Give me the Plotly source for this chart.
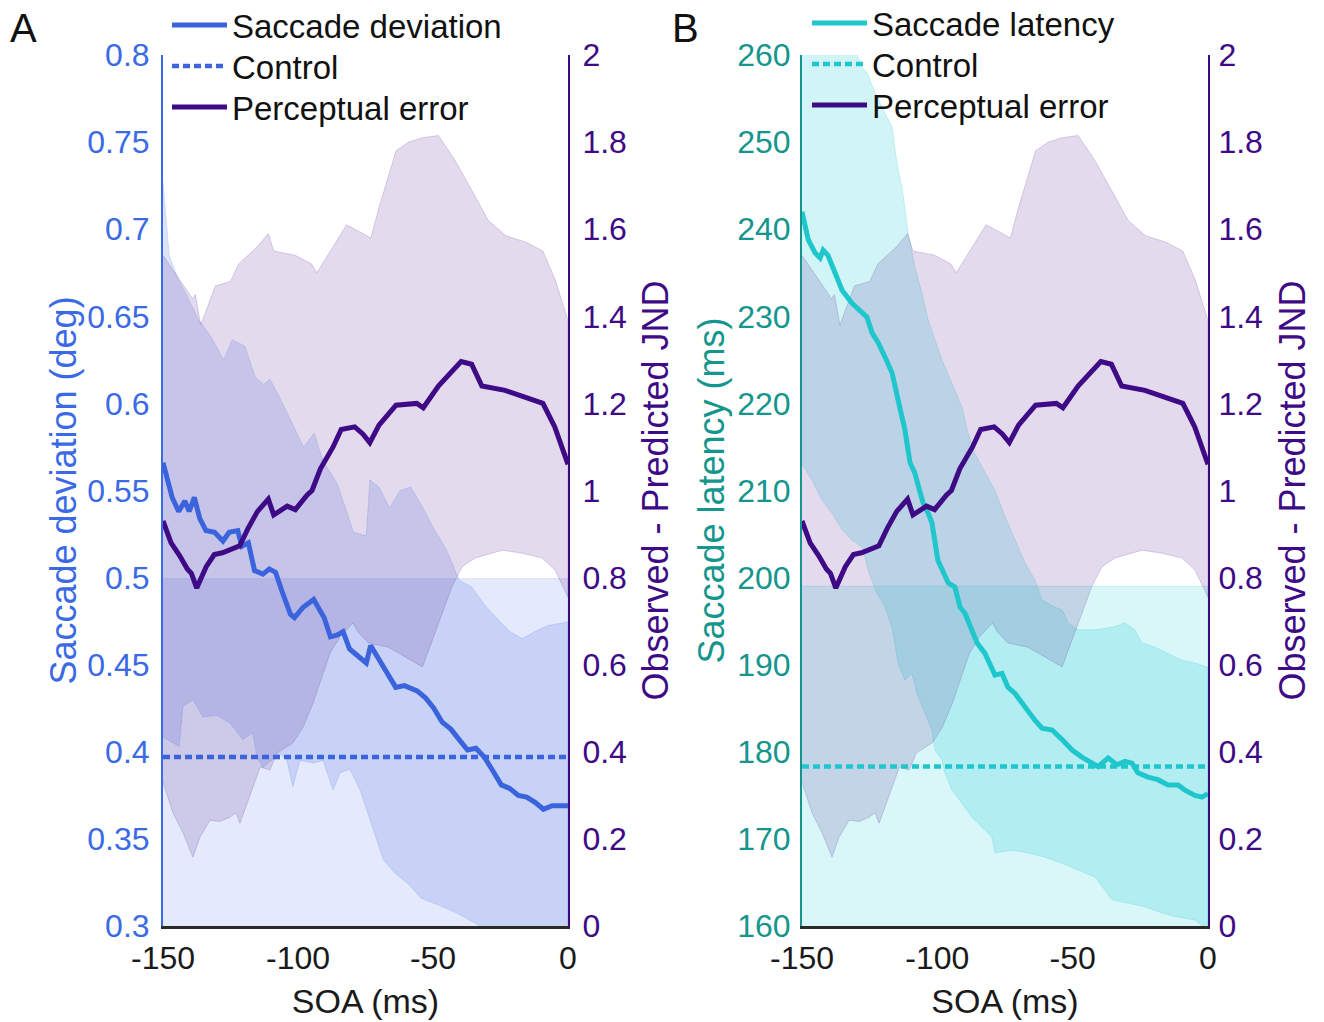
import plotly.graph_objects as go

# ---------------- data ----------------
# Perceptual error (Observed - Predicted JND), same in both panels
perc_x = [-150, -147, -143.8, -141, -139.5, -137.5, -134, -131, -128, -125, -121.6, -118.5, -115, -111, -109,
          -104, -101, -96.6, -94.8, -91.7, -87, -84, -79, -76, -73.4, -70, -63.7, -56, -53.6, -48, -43.5,
          -39.6, -35.7, -31.9, -23.3, -14, -9.3, -4.9, 0]
perc_y = [0.93, 0.88, 0.85, 0.82, 0.81, 0.776, 0.825, 0.853, 0.857, 0.865, 0.873, 0.913, 0.952, 0.98, 0.944,
          0.964, 0.956, 0.99, 1.0, 1.05, 1.10, 1.14, 1.146, 1.13, 1.11, 1.15, 1.196, 1.20, 1.19, 1.24, 1.27,
          1.296, 1.29, 1.24, 1.23, 1.21, 1.20, 1.146, 1.06]
perc_up_x = [-150, -144.6, -139, -138, -136, -130.6, -125, -122, -115, -111, -109, -101, -95, -93, -90, -82,
             -76, -73, -70, -63.7, -59, -54, -48, -42, -35.7, -29.5, -23, -15.5, -9.3, -4.5, 0]
perc_up_y = [1.54, 1.49, 1.44, 1.45, 1.38, 1.47, 1.48, 1.52, 1.56, 1.59, 1.55, 1.54, 1.52, 1.50, 1.53, 1.61,
             1.59, 1.58, 1.65, 1.78, 1.80, 1.81, 1.815, 1.76, 1.69, 1.62, 1.585, 1.57, 1.55, 1.48, 1.39]
perc_lo_x = [-150, -146.3, -142.6, -138.9, -136.3, -132.6, -128.9, -125.2, -123, -121.5, -119, -116.7, -114,
             -110.4, -107.8, -101.9, -98.1, -94.4, -90.7, -88.1, -84.4, -79.6, -77.8, -73.9, -66.5, -60.2,
             -53.9, -50.2, -46.6, -42.9, -39.2, -34.4, -24.4, -17, -9.6, -4.8, 0]
perc_lo_y = [0.33, 0.26, 0.214, 0.158, 0.204, 0.243, 0.24, 0.25, 0.26, 0.236, 0.282, 0.319, 0.365, 0.358,
             0.397, 0.42, 0.457, 0.512, 0.58, 0.627, 0.664, 0.696, 0.675, 0.65, 0.64, 0.618, 0.595, 0.657,
             0.72, 0.78, 0.825, 0.845, 0.863, 0.856, 0.845, 0.817, 0.755]

# Panel A: saccade deviation (deg)
dev_x = [-150, -146.6, -144.2, -141.9, -140.3, -138.4, -136.4, -134.1, -130.9, -127.8, -125.5, -122.3, -120.8,
         -118.4, -116.1, -113, -110.6, -108.3, -105.9, -102.8, -101.3, -98.1, -94.2, -91.9, -90.3, -88, -85.6,
         -83.3, -80.9, -77.8, -74.7, -73.1, -70, -66.9, -63.8, -60.6, -55.9, -52.8, -49.7, -46.6, -43.4,
         -40.3, -37.2, -34.1, -31, -27.8, -24.7, -21.6, -18.4, -15.3, -12.2, -9.1, -5.9, -2.8, 0]
dev_y = [0.566, 0.546, 0.538, 0.544, 0.538, 0.546, 0.534, 0.527, 0.526, 0.521, 0.526, 0.527, 0.518, 0.520,
         0.504, 0.502, 0.505, 0.503, 0.492, 0.479, 0.477, 0.483, 0.4875, 0.481, 0.477, 0.466, 0.467, 0.469,
         0.459, 0.455, 0.451, 0.461, 0.453, 0.445, 0.437, 0.438, 0.435, 0.431, 0.425, 0.417, 0.413, 0.407,
         0.401, 0.402, 0.397, 0.389, 0.381, 0.379, 0.375, 0.374, 0.371, 0.367, 0.369, 0.369, 0.369]
dev_up_x = [-150, -148.5, -147.7, -144.6, -141.5, -136.8, -132.1, -127.5, -124.4, -119.7, -115.8, -112.7,
            -110.4, -107.3, -102.6, -97.9, -94, -90.9, -85.5, -82.4, -79.4, -74.7, -73.4, -70, -66.1, -62.2,
            -58.3, -54.4, -49.7, -45, -40.3, -35.6, -31, -26.3, -21.6, -16.9, -12.2, -7.5, 0]
dev_up_y = [0.727, 0.70, 0.685, 0.672, 0.663, 0.648, 0.638, 0.625, 0.6365, 0.633, 0.615, 0.611, 0.614, 0.605,
            0.59, 0.575, 0.583, 0.5675, 0.554, 0.54, 0.526, 0.524, 0.556, 0.552, 0.54, 0.55, 0.552, 0.542,
            0.528, 0.516, 0.4985, 0.4945, 0.4845, 0.4765, 0.469, 0.465, 0.469, 0.4725, 0.4745]
dev_lo_x = [-150, -144, -142.6, -138.9, -135.2, -130, -125.2, -120.4, -116.7, -115.2, -113, -106.7, -104.1,
            -101.9, -99.3, -94.4, -90.7, -87, -84.4, -80.7, -77, -73, -68.4, -63.8, -59, -54.4, -48, -41.9,
            -37.2, -32.5, -25, -15, -5, 0]
dev_lo_y = [0.4085, 0.403, 0.426, 0.430, 0.420, 0.421, 0.4165, 0.407, 0.411, 0.397, 0.391, 0.399, 0.395,
            0.38, 0.395, 0.3935, 0.395, 0.378, 0.388, 0.39, 0.378, 0.359, 0.338, 0.33, 0.324, 0.316, 0.312,
            0.308, 0.304, 0.30, 0.295, 0.29, 0.285, 0.283]
dev_control_mean = 0.397
dev_control_ci = [0.2946, 0.4994]

# Panel B: saccade latency (ms)
lat_x = [-150, -147.7, -145.2, -143.3, -142.2, -140.4, -137.8, -135.2, -131.5, -127.8, -126, -124.1, -121.9,
         -119.3, -116.7, -114.5, -112, -110.1, -108.3, -107, -105.3, -103.4, -102, -99.8, -96, -93.5, -91.6,
         -89.8, -87.2, -85.3, -82.4, -78.7, -76.1, -73.9, -71.3, -67.6, -63.9, -61.3, -57.6, -53.9, -50.2,
         -46.6, -42.9, -40.6, -36.9, -33.6, -30.7, -28.1, -25.9, -22.2, -18.5, -14.8, -11.1, -8.5, -4.8,
         -2.2, 0]
lat_y = [242, 238.8, 237.3, 236.7, 237.6, 237, 235, 233, 231.5, 230.5, 229.9, 228.1, 227, 225.3, 223.5, 220.4,
         217, 213.2, 212, 210.5, 208.6, 207.4, 206.3, 202, 199.4, 198.9, 196.6, 195.9, 194, 192.5, 191.3,
         188.8, 189, 187.4, 186.7, 185.1, 183.6, 182.7, 182.5, 181.4, 180.2, 179.4, 178.7, 178.3, 179.3,
         178.5, 178.9, 178.7, 177.6, 177.1, 176.8, 176.2, 176.2, 175.6, 175, 174.8, 175.2]
lat_up_x = [-150, -131, -129, -127.8, -126, -123, -119.3, -116.7, -115.6, -114.5, -113, -112, -110.8, -108.3,
            -105.7, -103.4, -100.9, -98.3, -94.6, -90.9, -88.7, -86.1, -83.5, -78.7, -75, -71.3, -67.6, -63.9,
            -61.3, -56.5, -53.9, -51.7, -48, -41.7, -35.4, -30.7, -27, -24.4, -19.6, -14.8, -9.6, -4.8, 0]
lat_up_y = [262, 261, 259.5, 258.6, 258, 255.6, 253.3, 251.7, 249.1, 246.8, 244.8, 242.5, 239.6, 235.7, 232.7,
            229.6, 227.3, 225, 222.3, 219.6, 216.6, 214.3, 212.7, 210, 207, 204.3, 201.7, 199.7, 197.4, 196.6,
            196.3, 194.8, 194, 194, 194.3, 194.8, 194, 192.5, 192, 191.3, 190.5, 190.2, 189.7]
lat_lo_x = [-150, -146.3, -142.6, -138.9, -135.2, -131.5, -127.8, -125.6, -123, -119.3, -116.7, -114.5, -112,
            -109.4, -107.5, -104.6, -102, -100.9, -98.3, -97.2, -94.6, -90.9, -87.2, -83.5, -79.8, -78.7,
            -72.4, -66.5, -60.2, -53.9, -48, -41.7, -35.4, -29.6, -23.3, -17, -11.1, -4.8, 0]
lat_lo_y = [213, 211.2, 208.9, 207.4, 205.5, 204.3, 203.5, 200.9, 198.6, 196.6, 194.3, 190.2, 188.2, 189,
            186.7, 184.5, 182.5, 180.2, 179.1, 177.6, 175.6, 174.1, 172.5, 171.4, 170.2, 168.4, 168.7, 168.4,
            167.9, 167.2, 166.4, 165.6, 163, 162.6, 162.2, 161.5, 161, 160.7, 159.5]
lat_control_mean = 178.3
lat_control_ci = [157.6, 199.0]

x_range = [-150, 0]
x_ticks = [-150, -100, -50, 0]
x_ticktext = ["-150", "-100", "-50", "0"]
dev_range = [0.3, 0.8]
dev_ticks = [0.3, 0.35, 0.4, 0.45, 0.5, 0.55, 0.6, 0.65, 0.7, 0.75, 0.8]
dev_ticktext = ["0.3", "0.35", "0.4", "0.45", "0.5", "0.55", "0.6", "0.65", "0.7", "0.75", "0.8"]
lat_range = [160, 260]
lat_ticks = [160, 170, 180, 190, 200, 210, 220, 230, 240, 250, 260]
jnd_range = [0, 2]
jnd_ticks = [0, 0.2, 0.4, 0.6, 0.8, 1, 1.2, 1.4, 1.6, 1.8, 2]
jnd_ticktext = ["0", "0.2", "0.4", "0.6", "0.8", "1", "1.2", "1.4", "1.6", "1.8", "2"]

# ---------------- style ----------------
W, H = 1324, 1022
FONT = "Liberation Sans, Arial, sans-serif"
BLUE = "#3b64dc"
BLUE_AX = "#3a6ae6"
PURPLE = "#3e0a86"
CYAN = "#1fc6cc"
TEAL = "#14958d"
DARK = "#2a2a2a"


def px_x(p):
    return p / W


def px_y(p):
    return 1 - p / H


domA = [px_x(163), px_x(568)]
domB = [px_x(802), px_x(1208)]
domY = [px_y(926), px_y(55)]


def band(xu, yu, xl, yl, color, edge, xa, ya):
    return go.Scatter(x=list(xu) + list(xl)[::-1], y=list(yu) + list(yl)[::-1], fill="toself",
                      fillcolor=color, mode="lines", line=dict(color=edge, width=0.8),
                      hoverinfo="skip", showlegend=False, xaxis=xa, yaxis=ya)


fig = go.Figure()

# ---- Panel A ----
fig.add_trace(band(x_range, [dev_control_ci[1]] * 2, x_range, [dev_control_ci[0]] * 2,
                   "rgba(65,105,225,0.14)", "rgba(65,105,225,0.18)", "x", "y"))
fig.add_trace(band(dev_up_x, dev_up_y, dev_lo_x, dev_lo_y,
                   "rgba(65,105,225,0.18)", "rgba(65,105,225,0.22)", "x", "y"))
fig.add_trace(band(perc_up_x, perc_up_y, perc_lo_x, perc_lo_y,
                   "rgba(90,40,150,0.17)", "rgba(90,40,150,0.25)", "x", "y2"))
fig.add_trace(go.Scatter(x=dev_x, y=dev_y, mode="lines", name="Saccade deviation",
                         line=dict(color=BLUE, width=5), xaxis="x", yaxis="y3", legend="legend"))
fig.add_trace(go.Scatter(x=x_range, y=[dev_control_mean] * 2, mode="lines", name="Control",
                         line=dict(color=BLUE, width=4.5, dash="7px,4px"), xaxis="x", yaxis="y3",
                         legend="legend2"))
fig.add_trace(go.Scatter(x=perc_x, y=perc_y, mode="lines", name="Perceptual error",
                         line=dict(color=PURPLE, width=5), xaxis="x", yaxis="y4", legend="legend3"))

# ---- Panel B ----
fig.add_trace(band(x_range, [lat_control_ci[1]] * 2, x_range, [lat_control_ci[0]] * 2,
                   "rgba(0,200,210,0.15)", "rgba(0,180,190,0.2)", "x2", "y5"))
fig.add_trace(band(lat_up_x, lat_up_y, lat_lo_x, lat_lo_y,
                   "rgba(0,200,210,0.18)", "rgba(0,180,190,0.22)", "x2", "y5"))
fig.add_trace(band(perc_up_x, perc_up_y, perc_lo_x, perc_lo_y,
                   "rgba(90,40,150,0.17)", "rgba(90,40,150,0.25)", "x2", "y6"))
fig.add_trace(go.Scatter(x=lat_x, y=lat_y, mode="lines", name="Saccade latency",
                         line=dict(color=CYAN, width=5), xaxis="x2", yaxis="y7", legend="legend4"))
fig.add_trace(go.Scatter(x=x_range, y=[lat_control_mean] * 2, mode="lines", name="Control",
                         line=dict(color=CYAN, width=4.5, dash="7px,4px"), xaxis="x2", yaxis="y7",
                         legend="legend5"))
fig.add_trace(go.Scatter(x=perc_x, y=perc_y, mode="lines", name="Perceptual error",
                         line=dict(color=PURPLE, width=5), xaxis="x2", yaxis="y8", legend="legend6"))


def tickfont(c):
    return dict(family=FONT, size=32, color=c)


def titlefont(c, s=36):
    return dict(family=FONT, size=s, color=c)


def leg(xp, yp):
    return dict(x=px_x(xp), y=px_y(yp), xanchor="left", yanchor="middle", bgcolor="rgba(0,0,0,0)",
                font=dict(family=FONT, size=33, color="#111"), itemwidth=55)


xcommon = dict(range=x_range, tickvals=x_ticks, ticktext=x_ticktext, ticks="", showgrid=False,
               zeroline=False, automargin=False,
               showline=True, linecolor=DARK, linewidth=3, tickfont=tickfont("#1a1a1a"),
               ticklabelstandoff=2, title=dict(text="SOA (ms)", font=titlefont("#1a1a1a", 34), standoff=14))

ycommon = dict(ticks="", showgrid=False, zeroline=False, showline=True, linewidth=2, automargin=False)

fig.update_layout(
    width=W, height=H, margin=dict(l=0, r=0, t=0, b=0, autoexpand=False),
    paper_bgcolor="white", plot_bgcolor="rgba(0,0,0,0)",
    font=dict(family=FONT),
    xaxis=dict(domain=domA, anchor="y", **xcommon),
    xaxis2=dict(domain=domB, anchor="y5", **xcommon),
    yaxis=dict(domain=domY, anchor="x", side="left", range=dev_range, tickvals=dev_ticks,
               ticktext=dev_ticktext, linecolor=BLUE_AX, tickfont=tickfont(BLUE_AX),
               ticklabelstandoff=5,
               title=dict(text="Saccade deviation (deg)", font=titlefont(BLUE_AX), standoff=0), **ycommon),
    yaxis2=dict(domain=domY, anchor="x", overlaying="y", side="right", range=jnd_range, tickvals=jnd_ticks,
                ticktext=jnd_ticktext, linecolor=PURPLE, tickfont=tickfont(PURPLE), ticklabelstandoff=6,
                title=dict(text="Observed - Predicted JND", font=titlefont(PURPLE), standoff=17), **ycommon),
    yaxis3=dict(domain=domY, anchor="x", overlaying="y", range=dev_range, visible=False, automargin=False),
    yaxis4=dict(domain=domY, anchor="x", overlaying="y", range=jnd_range, visible=False, automargin=False),
    yaxis5=dict(domain=domY, anchor="x2", side="left", range=lat_range, tickvals=lat_ticks,
                linecolor=TEAL, tickfont=tickfont(TEAL), ticklabelstandoff=3,
                title=dict(text="Saccade latency (ms)", font=titlefont(TEAL), standoff=2), **ycommon),
    yaxis6=dict(domain=domY, anchor="x2", overlaying="y5", side="right", range=jnd_range, tickvals=jnd_ticks,
                ticktext=jnd_ticktext, linecolor=PURPLE, tickfont=tickfont(PURPLE), ticklabelstandoff=2,
                title=dict(text="Observed - Predicted JND", font=titlefont(PURPLE), standoff=18), **ycommon),
    yaxis7=dict(domain=domY, anchor="x2", overlaying="y5", range=lat_range, visible=False, automargin=False),
    yaxis8=dict(domain=domY, anchor="x2", overlaying="y5", range=jnd_range, visible=False, automargin=False),
    legend=leg(167, 25),
    legend2=leg(167, 66),
    legend3=leg(167, 107),
    legend4=leg(807, 23),
    legend5=leg(807, 64),
    legend6=leg(807, 105),
    showlegend=True,
    annotations=[
        dict(text="A", x=px_x(8), y=px_y(4), xref="paper", yref="paper", xanchor="left", yanchor="top",
             showarrow=False, font=dict(family=FONT, size=40, color="#111")),
        dict(text="B", x=px_x(670), y=px_y(4), xref="paper", yref="paper", xanchor="left", yanchor="top",
             showarrow=False, font=dict(family=FONT, size=40, color="#111")),
    ],
)

fig.write_html("out.html")
